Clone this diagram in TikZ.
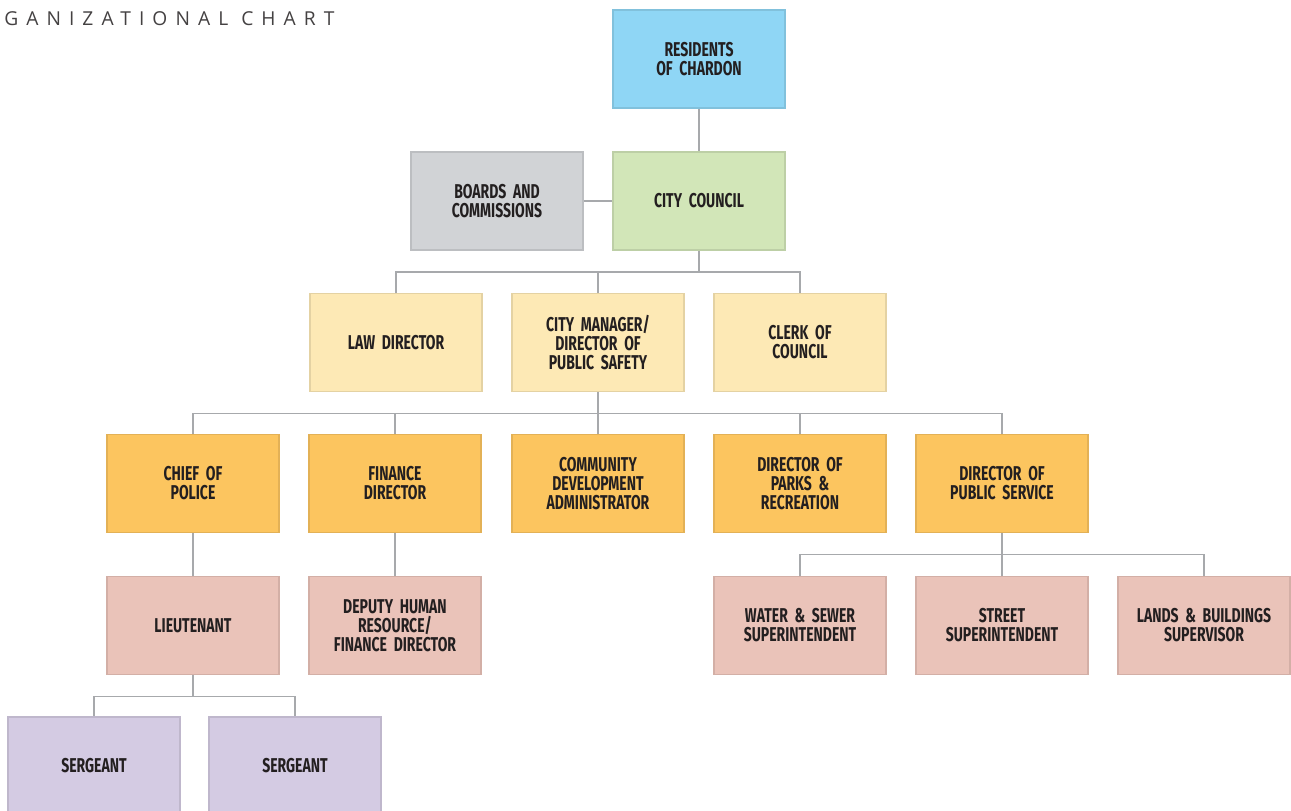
\documentclass[tikz,border=0pt]{standalone}
\usepackage{fontspec}
\setmainfont{Fira Sans}
\newfontfamily\boxfont[FakeStretch=0.70,WordSpace=0.72]{Fira Sans}
\newfontfamily\titlefont[LetterSpace=42]{Open Sans}
\usepackage{xcolor}
\usepackage{tikz}

\definecolor{cResident}{HTML}{8FD6F5}
\definecolor{cCouncil}{HTML}{D2E6B8}
\definecolor{cBoard}{HTML}{D1D3D6}
\definecolor{cDirector}{HTML}{FDE9B5}
\definecolor{cHead}{HTML}{FCC55F}
\definecolor{cStaff}{HTML}{EAC3B9}
\definecolor{cSergeant}{HTML}{D4CBE3}
\definecolor{cLink}{HTML}{A7A9AC}
\definecolor{cText}{HTML}{231F20}

\tikzset{
  unit/.style={draw=#1!90!black, fill=#1, line width=1.2pt, inner sep=0pt,
    minimum width=129pt, minimum height=73.5pt, text width=125pt, align=center,
    font=\boxfont\bfseries\fontsize{15}{14.25}\selectfont, text=cText},
  link/.style={draw=cLink, line width=1.1pt}
}

\begin{document}
\begin{tikzpicture}[x=0.75pt,y=0.75pt,yscale=-1,xscale=1]
\useasboundingbox (0,0) rectangle (1291,810);

% Title
\node [anchor=base west, inner sep=0pt, text=cText!85, font=\titlefont\fontsize{14.4}{15}\selectfont] (title) at (4,25) {GANIZATIONAL CHART};

% Top
\node [unit=cResident] (res) at (699,59) {RESIDENTS\\OF CHARDON};
\node [unit=cCouncil] (council) at (699,201) {CITY COUNCIL};
\node [unit=cBoard] (boards) at (497,201) {BOARDS AND\\COMMISSIONS};

% Directors
\node [unit=cDirector] (law) at (396,342.5) {LAW DIRECTOR};
\node [unit=cDirector] (mgr) at (598,342.5) {CITY MANAGER/\\DIRECTOR OF\\PUBLIC SAFETY};
\node [unit=cDirector] (clerk) at (800,342.5) {CLERK OF\\COUNCIL};

% Department heads
\node [unit=cHead] (police) at (193,483.5) {CHIEF OF\\POLICE};
\node [unit=cHead] (finance) at (395,483.5) {FINANCE\\DIRECTOR};
\node [unit=cHead] (community) at (598,483.5) {COMMUNITY\\DEVELOPMENT\\ADMINISTRATOR};
\node [unit=cHead] (parks) at (800,483.5) {DIRECTOR OF\\PARKS \&\\RECREATION};
\node [unit=cHead] (service) at (1002,483.5) {DIRECTOR OF\\PUBLIC SERVICE};

% Staff
\node [unit=cStaff] (lieut) at (193,625.5) {LIEUTENANT};
\node [unit=cStaff] (deputy) at (395,625.5) {DEPUTY HUMAN\\RESOURCE/\\FINANCE DIRECTOR};
\node [unit=cStaff] (water) at (800,625.5) {WATER \& SEWER\\SUPERINTENDENT};
\node [unit=cStaff] (street) at (1002,625.5) {STREET\\SUPERINTENDENT};
\node [unit=cStaff] (lands) at (1204,625.5) {LANDS \& BUILDINGS\\SUPERVISOR};

% Sergeants
\node [unit=cSergeant] (sgtA) at (94,766) {SERGEANT};
\node [unit=cSergeant] (sgtB) at (295,766) {SERGEANT};

% Junctions
\path (council.south) ++(0,21) coordinate (jCouncil);
\path (mgr.south) ++(0,21) coordinate (jMgr);
\path (service.south) ++(0,21) coordinate (jService);
\path (lieut.south) ++(0,21) coordinate (jLieut);

% Connectors
\draw [link] (res) -- (council);
\draw [link] (boards) -- (council);

\draw [link] (council.south) -- (jCouncil);
\draw [link] (jCouncil) -| (law.north);
\draw [link] (jCouncil) -| (clerk.north);
\draw [link] (jCouncil) -| (mgr.north);

\draw [link] (mgr.south) -- (community.north);
\draw [link] (jMgr) -| (police.north);
\draw [link] (jMgr) -| (finance.north);
\draw [link] (jMgr) -| (parks.north);
\draw [link] (jMgr) -| (service.north);

\draw [link] (police) -- (lieut);
\draw [link] (finance) -- (deputy);

\draw [link] (service.south) -- (street.north);
\draw [link] (jService) -| (water.north);
\draw [link] (jService) -| (lands.north);

\draw [link] (lieut.south) -- (jLieut);
\draw [link] (jLieut) -| (sgtA.north);
\draw [link] (jLieut) -| (sgtB.north);

\end{tikzpicture}
\end{document}
